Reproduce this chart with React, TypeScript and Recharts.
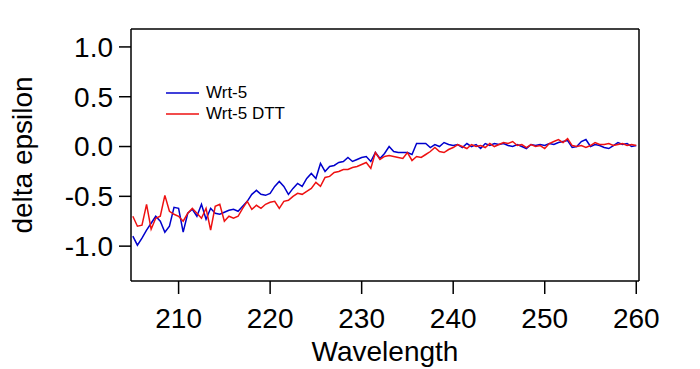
import { LineChart, Line, XAxis, YAxis, Label } from 'recharts'

const wavelengths = [
  205, 205.5, 206, 206.5, 207, 207.5, 208, 208.5, 209, 209.5,
  210, 210.5, 211, 211.5, 212, 212.5, 213, 213.5, 214, 214.5,
  215, 215.5, 216, 216.5, 217, 217.5, 218, 218.5, 219, 219.5,
  220, 220.5, 221, 221.5, 222, 222.5, 223, 223.5, 224, 224.5,
  225, 225.5, 226, 226.5, 227, 227.5, 228, 228.5, 229, 229.5,
  230, 230.5, 231, 231.5, 232, 232.5, 233, 233.5, 234, 234.5,
  235, 235.5, 236, 236.5, 237, 237.5, 238, 238.5, 239, 239.5,
  240, 240.5, 241, 241.5, 242, 242.5, 243, 243.5, 244, 244.5,
  245, 245.5, 246, 246.5, 247, 247.5, 248, 248.5, 249, 249.5,
  250, 250.5, 251, 251.5, 252, 252.5, 253, 253.5, 254, 254.5,
  255, 255.5, 256, 256.5, 257, 257.5, 258, 258.5, 259, 259.5,
  260,
]

const wrt5 = [
  -0.90, -0.99, -0.92, -0.84, -0.77, -0.70, -0.75, -0.86, -0.80, -0.61,
  -0.62, -0.86, -0.67, -0.63, -0.70, -0.58, -0.73, -0.62, -0.67, -0.68,
  -0.66, -0.64, -0.63, -0.65, -0.60, -0.55, -0.48, -0.44, -0.48, -0.49,
  -0.47, -0.40, -0.35, -0.40, -0.48, -0.42, -0.37, -0.40, -0.32, -0.27,
  -0.32, -0.17, -0.25, -0.20, -0.19, -0.16, -0.15, -0.11, -0.15, -0.13,
  -0.11, -0.10, -0.15, -0.06, -0.12, -0.07, 0.00, -0.05, -0.06, -0.06,
  -0.06, -0.08, 0.03, 0.03, 0.03, -0.01, 0.02, 0.00, 0.04, 0.02,
  0.01, 0.02, -0.01, 0.03, 0.00, 0.02, -0.02, 0.03, 0.01, 0.03,
  0.02, 0.03, 0.01, 0.00, 0.02, 0.00, -0.02, 0.02, 0.01, 0.02,
  0.01, 0.03, 0.02, 0.04, 0.05, 0.06, -0.01, 0.00, 0.05, 0.07,
  0.00, 0.02, 0.01, -0.01, -0.02, 0.01, 0.04, 0.02, 0.03, 0.00,
  0.01,
]

const wrt5Dtt = [
  -0.70, -0.80, -0.79, -0.58, -0.83, -0.72, -0.70, -0.49, -0.65, -0.68,
  -0.70, -0.75, -0.67, -0.62, -0.67, -0.72, -0.62, -0.84, -0.60, -0.58,
  -0.75, -0.70, -0.72, -0.70, -0.62, -0.55, -0.63, -0.59, -0.62, -0.58,
  -0.56, -0.55, -0.62, -0.55, -0.54, -0.50, -0.47, -0.48, -0.45, -0.42,
  -0.36, -0.40, -0.31, -0.30, -0.26, -0.25, -0.23, -0.23, -0.21, -0.20,
  -0.18, -0.16, -0.22, -0.06, -0.13, -0.10, -0.09, -0.10, -0.11, -0.12,
  -0.06, -0.14, -0.10, -0.11, -0.08, -0.05, -0.01, -0.05, -0.06, -0.03,
  -0.01, 0.02, 0.00, -0.02, 0.02, 0.00, 0.01, -0.01, 0.03, 0.00,
  0.02, 0.04, 0.03, 0.05, 0.01, 0.02, -0.01, 0.02, 0.00, 0.01,
  -0.02, 0.03, 0.05, 0.07, 0.04, 0.08, 0.01, 0.00, 0.01, -0.01,
  0.01, 0.04, 0.02, 0.02, 0.03, 0.01, 0.02, 0.03, 0.01, 0.02,
  0.01,
]

const xTicks = [210, 220, 230, 240, 250, 260]
const yTicks = [-1.0, -0.5, 0.0, 0.5, 1.0]

const FONT = 'Arial, "Liberation Sans", sans-serif'
const BLUE = '#0000cc'
const RED = '#ee1111'
const X_DOMAIN = [204.8, 260.3]
const Y_DOMAIN = [-1.35, 1.18]

const data = wavelengths.map((wl, i) => ({ wl, wrt5: wrt5[i], wrt5dtt: wrt5Dtt[i] }))

const legendItems = [
  { name: 'Wrt-5', color: BLUE },
  { name: 'Wrt-5 DTT', color: RED },
]

// legend sits inside the plot, drawn as a plain overlay so it takes no space from the axes
function ChartLegend() {
  return (
    <div style={{ position: 'absolute', left: 166, top: 82, fontFamily: FONT, fontSize: 17, color: '#000' }}>
      {legendItems.map(it => (
        <div key={it.name} style={{ display: 'flex', alignItems: 'center', height: 21 }}>
          <svg width={33} height={4} style={{ marginRight: 7 }}>
            <line x1={0} y1={2} x2={33} y2={2} stroke={it.color} strokeWidth={1.5} />
          </svg>
          <span style={{ lineHeight: '21px', whiteSpace: 'nowrap' }}>{it.name}</span>
        </div>
      ))}
    </div>
  )
}

export default function App() {
  const tickStyle = { fontSize: 28, fill: '#000', fontFamily: FONT }
  return (
    <div style={{ position: 'absolute', left: 0, top: 0, width: 700, height: 369, background: '#fff' }}>
      <LineChart width={700} height={369} data={data} margin={{ top: 28, right: 60, bottom: 0, left: 0 }}>
        <XAxis
          dataKey="wl"
          type="number"
          domain={X_DOMAIN}
          ticks={xTicks}
          allowDataOverflow
          height={88}
          tick={tickStyle}
          tickSize={13}
          tickMargin={14}
          stroke="#000"
          strokeWidth={1.5}
        >
          <Label
            content={({ viewBox }: any) => (
              <text
                x={viewBox.x + viewBox.width / 2}
                y={viewBox.y + 80}
                textAnchor="middle"
                fontSize={28}
                fontFamily={FONT}
                fill="#000"
              >
                Wavelength
              </text>
            )}
          />
        </XAxis>
        <XAxis
          xAxisId="top"
          dataKey="wl"
          type="number"
          orientation="top"
          domain={X_DOMAIN}
          allowDataOverflow
          height={1}
          tick={false}
          tickLine={false}
          stroke="#000"
          strokeWidth={1.5}
        />
        <YAxis
          type="number"
          domain={Y_DOMAIN}
          ticks={yTicks}
          allowDataOverflow
          width={131}
          tick={tickStyle}
          tickFormatter={(v: number) => v.toFixed(1)}
          tickSize={12}
          tickMargin={6}
          stroke="#000"
          strokeWidth={1.5}
        >
          <Label
            content={({ viewBox }: any) => {
              const cx = viewBox.x + 22
              const cy = viewBox.y + viewBox.height / 2
              return (
                <text
                  x={cx}
                  y={cy}
                  dy="0.35em"
                  transform={`rotate(-90, ${cx}, ${cy})`}
                  textAnchor="middle"
                  fontSize={28}
                  fontFamily={FONT}
                  fill="#000"
                >
                  delta epsilon
                </text>
              )
            }}
          />
        </YAxis>
        <YAxis
          yAxisId="right"
          orientation="right"
          type="number"
          domain={Y_DOMAIN}
          allowDataOverflow
          width={1}
          tick={false}
          tickLine={false}
          stroke="#000"
          strokeWidth={1.5}
        />
        <Line
          dataKey="wrt5"
          name="Wrt-5"
          stroke={BLUE}
          strokeWidth={1.5}
          dot={false}
          isAnimationActive={false}
        />
        <Line
          dataKey="wrt5dtt"
          name="Wrt-5 DTT"
          stroke={RED}
          strokeWidth={1.5}
          dot={false}
          isAnimationActive={false}
        />
      </LineChart>
      <ChartLegend />
    </div>
  )
}
